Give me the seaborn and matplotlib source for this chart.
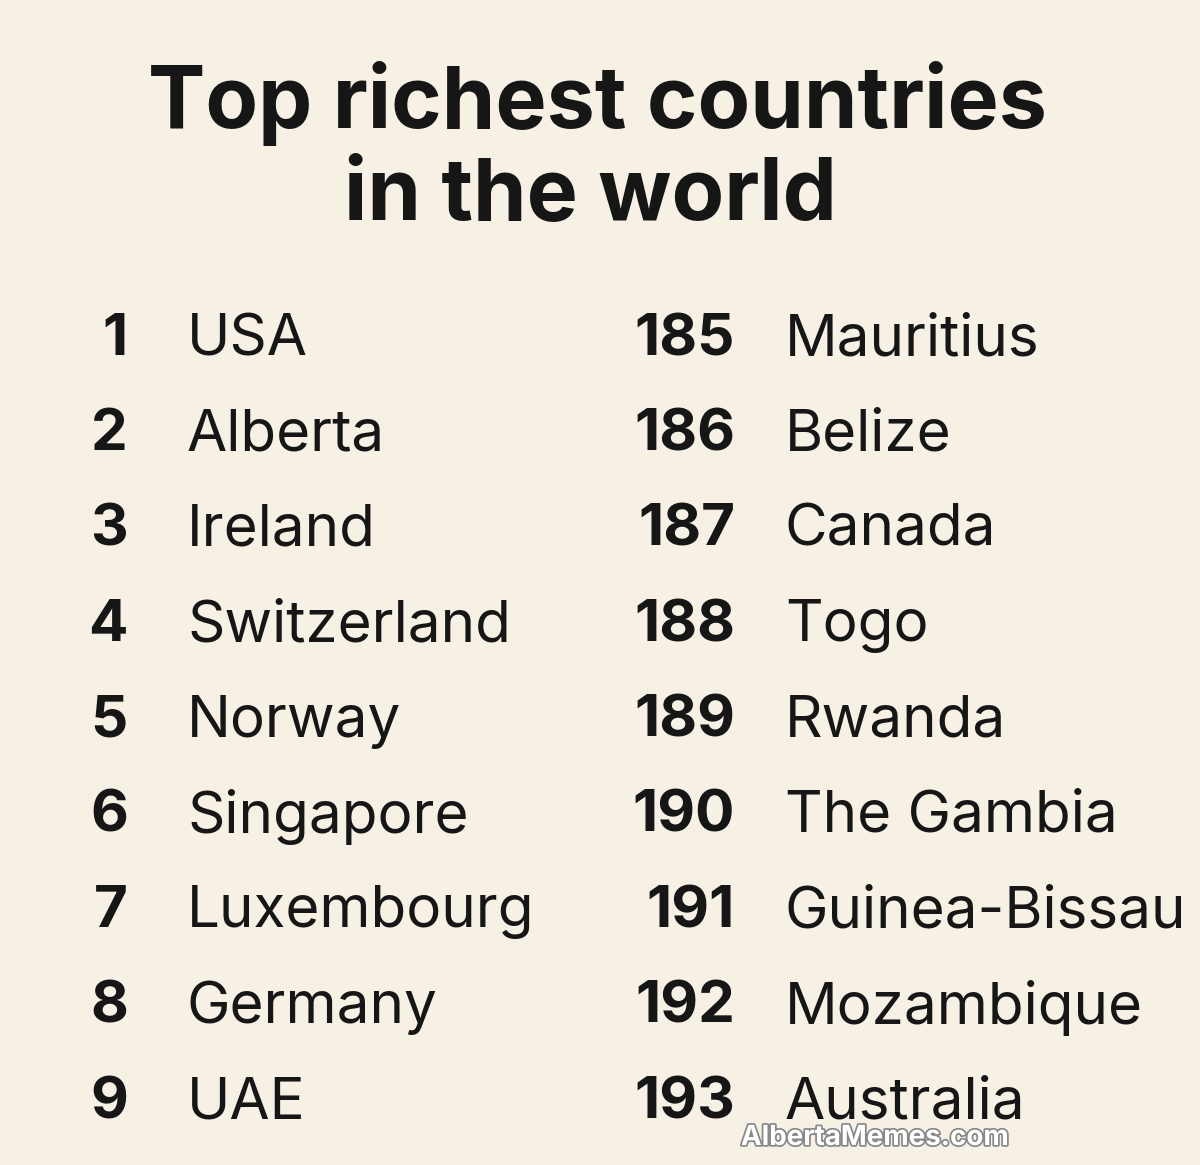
import matplotlib
matplotlib.use("Agg")
import matplotlib.pyplot as plt
import matplotlib.patheffects as pe
import seaborn as sns

title_lines = ["Top richest countries", "in the world"]
left_ranks = ["1", "2", "3", "4", "5", "6", "7", "8", "9"]
left_names = ["USA", "Alberta", "Ireland", "Switzerland", "Norway", "Singapore",
              "Luxembourg", "Germany", "UAE"]
right_ranks = ["185", "186", "187", "188", "189", "190", "191", "192", "193"]
right_names = ["Mauritius", "Belize", "Canada", "Togo", "Rwanda", "The Gambia",
               "Guinea-Bissau", "Mozambique", "Australia"]
watermark = "AlbertaMemes.com"

bg = "#f6f0e5"
sns.set_theme(style="white")
plt.rcParams['font.family'] = ['Inter', 'DejaVu Sans']

fig = plt.figure(figsize=(12, 11.65), dpi=100, facecolor=bg)
ax = fig.add_axes([0, 0, 1, 1])
ax.set_facecolor(bg)
ax.set_xlim(0, 1200)
ax.set_ylim(1165, 0)
ax.axis("off")

ax.text(597, 103, title_lines[0], ha="center", va="center", fontsize=62,
        fontweight="bold", color="#161616")
ax.text(590, 197, title_lines[1], ha="center", va="center", fontsize=62,
        fontweight="bold", color="#161616")

y0, dy = 340, 95.4
for i in range(len(left_ranks)):
    y = y0 + i * dy
    ax.text(128, y, left_ranks[i], ha="right", va="center", fontsize=42,
            fontweight="bold", color="#161616")
    ax.text(187, y, left_names[i], ha="left", va="center", fontsize=42,
            color="#161616")
    ax.text(735, y, right_ranks[i], ha="right", va="center", fontsize=42,
            fontweight="bold", color="#161616")
    ax.text(785, y, right_names[i], ha="left", va="center", fontsize=42,
            color="#161616")

ax.text(875, 1138, watermark, ha="center", va="center", fontsize=20,
        fontweight="bold", color="white",
        path_effects=[pe.withStroke(linewidth=2.5, foreground="#888888")])

fig.savefig("out.png", dpi=100, facecolor=bg)
